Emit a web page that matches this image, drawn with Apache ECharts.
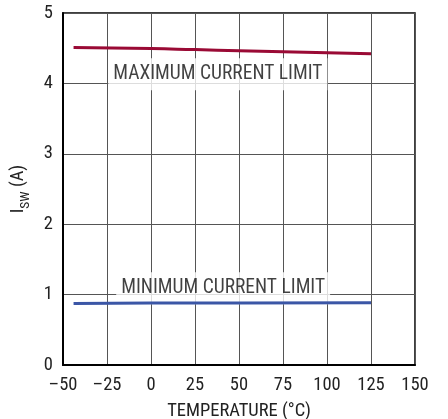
<!DOCTYPE html>
<html><head><meta charset="utf-8">
<script src="https://cdn.jsdelivr.net/npm/echarts@6/dist/echarts.min.js"></script>
<style>html,body{margin:0;padding:0;background:#fff}#c{width:448px;height:419px}</style>
</head><body><div id="c"></div>
<script>
const tempMax = [-44, 0, 25, 50, 75, 100, 125];
const valMax = [4.51, 4.495, 4.48, 4.465, 4.45, 4.435, 4.42];
const tempMin = [-44, 0, 50, 125];
const valMin = [0.875, 0.88, 0.882, 0.885];
const xTicks = [-50, -25, 0, 25, 50, 75, 100, 125, 150];
const yTicks = [0, 1, 2, 3, 4, 5];
const labelMax = {text: 'MAXIMUM CURRENT LIMIT', x: 38, y: 4.13};
const labelMin = {text: 'MINIMUM CURRENT LIMIT', x: 41, y: 1.09};

const FONT = "'Roboto Condensed', Roboto, sans-serif";
const chart = echarts.init(document.getElementById('c'));
function fmtNum(v){ return v < 0 ? '\u2013' + Math.abs(v) : String(v); }
chart.setOption({
  animation: false,
  grid: {left: 63, right: 33, top: 13, bottom: 54, show: true, borderColor: '#000', borderWidth: 1.5,
         backgroundColor: 'transparent', outerBoundsMode: 'none', containLabel: false},
  xAxis: {
    type: 'value', min: xTicks[0], max: xTicks[xTicks.length-1], interval: 25,
    axisLine: {show: true, onZero: false, lineStyle: {color: '#000', width: 2}},
    axisTick: {show: false},
    axisLabel: {color: '#222', fontFamily: FONT, fontSize: 18.5, margin: 11, formatter: fmtNum},
    splitLine: {show: true, lineStyle: {color: '#555', width: 1}},
    name: 'TEMPERATURE (\u00b0C)', nameLocation: 'middle', nameGap: 37,
    nameTextStyle: {color: '#222', fontFamily: FONT, fontSize: 18.5}
  },
  yAxis: {
    type: 'value', min: yTicks[0], max: yTicks[yTicks.length-1], interval: 1,
    axisLine: {show: true, onZero: false, lineStyle: {color: '#000', width: 2}},
    axisTick: {show: false},
    axisLabel: {color: '#222', fontFamily: FONT, fontSize: 18.5, margin: 10},
    splitLine: {show: true, lineStyle: {color: '#555', width: 1}},
    name: '{i|I}{s|SW}{i| (A)}', nameLocation: 'middle', nameGap: 25, nameRotate: 90,
    nameTextStyle: {
      color: '#222', fontFamily: FONT, fontSize: 18.5,
      rich: {
        i: {fontFamily: FONT, fontSize: 18.5, color: '#222', verticalAlign: 'bottom', lineHeight: 22},
        s: {fontFamily: FONT, fontSize: 13.5, color: '#222', verticalAlign: 'bottom', lineHeight: 22, padding: [0,0,-5,0]}
      }
    }
  },
  series: [
    {type: 'line', data: tempMax.map((t,i)=>[t, valMax[i]]), showSymbol: false, smooth: true,
     lineStyle: {color: '#9a0a35', width: 3}, z: 5},
    {type: 'line', data: tempMin.map((t,i)=>[t, valMin[i]]), showSymbol: false, smooth: true,
     lineStyle: {color: '#3b56a6', width: 3}, z: 5},
    {type: 'scatter', symbolSize: 0, z: 4, silent: true,
     data: [[labelMax.x, labelMax.y], [labelMin.x, labelMin.y]],
     label: {show: true, position: 'inside', formatter: p => p.dataIndex === 0 ? labelMax.text : labelMin.text,
       color: '#111', fontFamily: FONT, fontSize: 19.5, backgroundColor: '#fff', padding: [6, 5, 6, 5]}}
  ]
});
</script></body></html>
